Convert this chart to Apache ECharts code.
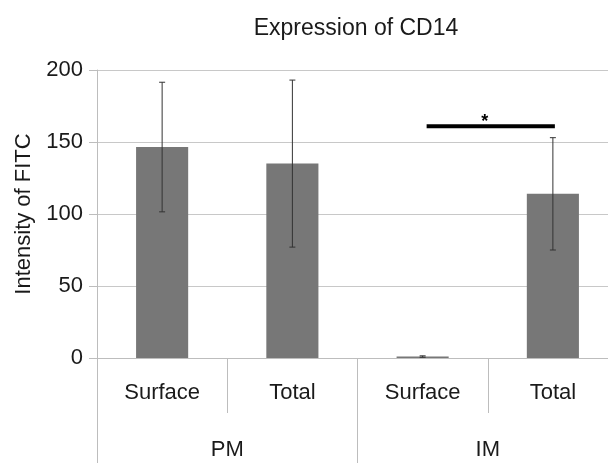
<!DOCTYPE html>
<html>
<head>
<meta charset="utf-8">
<script src="https://cdn.jsdelivr.net/npm/echarts@6/dist/echarts.min.js"></script>
<style>
  html, body { margin: 0; padding: 0; background: #fff; }
  #chart { width: 608px; height: 463px; }
</style>
</head>
<body>
<div id="chart"></div>
<script>
// data
var categories = ['Surface', 'Total', 'Surface', 'Total'];
var groups = ['PM', 'IM'];
var means = [146.5, 135, 1, 114];
var errLow = [101.5, 77, 0.5, 75];
var errHigh = [191.5, 193, 1.5, 153];
var sigFrom = 2, sigTo = 3, sigLevel = 161, sigText = '*';
var yTicks = [0, 200, 50];

(function(){

    var chart = echarts.init(document.getElementById('chart'));
    var font = 'Liberation Sans, Arial, sans-serif';

    var errData = categories.map(function (c, i) { return [i, errLow[i], errHigh[i]]; });

    option = {
        animation: false,
        title: {
            text: 'Expression of CD14',
            left: 351,
            textAlign: 'center',
            top: 12,
            textStyle: { fontFamily: font, fontSize: 23, fontWeight: 'normal', color: '#1a1a1a' }
        },
        // the plot runs past the right edge of the picture (it was cropped)
        grid: { left: 97, width: 521, top: 70, bottom: 105, outerBoundsMode: 'none' },
        xAxis: [
            {
                type: 'category',
                data: categories,
                axisLine: { show: true, lineStyle: { color: '#bdbdbd' } },
                axisTick: { show: true, interval: 0, length: 55, lineStyle: { color: '#bdbdbd' } },
                axisLabel: { interval: 0, margin: 24, fontFamily: font, fontSize: 22, color: '#1a1a1a' }
            },
            {
                type: 'category',
                data: groups,
                position: 'bottom',
                offset: 0,
                axisLine: { show: false },
                axisTick: { show: true, interval: 0, length: 105, lineStyle: { color: '#bdbdbd' } },
                axisLabel: { interval: 0, margin: 81, fontFamily: font, fontSize: 22, color: '#1a1a1a' }
            }
        ],
        yAxis: {
            type: 'value',
            min: yTicks[0],
            max: yTicks[1],
            interval: yTicks[2],
            name: 'Intensity of FITC',
            nameLocation: 'middle',
            nameGap: 60,
            nameTextStyle: { fontFamily: font, fontSize: 22, color: '#1a1a1a' },
            axisLine: { show: true, lineStyle: { color: '#bdbdbd' } },
            axisTick: { show: true, length: 8, lineStyle: { color: '#bdbdbd' } },
            axisLabel: { margin: 14, fontFamily: font, fontSize: 22, color: '#1a1a1a' },
            splitLine: { lineStyle: { color: '#c8c8c8' } }
        },
        series: [
            {
                name: 'mean',
                type: 'bar',
                barWidth: '40%',
                itemStyle: { color: '#777777' },
                data: means
            },
            {
                name: 'error',
                type: 'custom',
                z: 5,
                renderItem: function (params, api) {
                    var x = api.value(0);
                    var lo = api.coord([x, api.value(1)]);
                    var hi = api.coord([x, api.value(2)]);
                    var cap = 3;
                    var st = { stroke: '#333', lineWidth: 1 };
                    return {
                        type: 'group',
                        children: [
                            { type: 'line', shape: { x1: lo[0], y1: lo[1], x2: hi[0], y2: hi[1] }, style: st },
                            { type: 'line', shape: { x1: hi[0] - cap, y1: hi[1], x2: hi[0] + cap, y2: hi[1] }, style: st },
                            { type: 'line', shape: { x1: lo[0] - cap, y1: lo[1], x2: lo[0] + cap, y2: lo[1] }, style: st }
                        ]
                    };
                },
                encode: { x: 0, y: [1, 2] },
                data: errData
            },
            {
                name: 'sig',
                type: 'custom',
                z: 6,
                renderItem: function (params, api) {
                    var a = api.coord([api.value(0), api.value(2)]);
                    var b = api.coord([api.value(1), api.value(2)]);
                    return {
                        type: 'group',
                        children: [
                            { type: 'line', shape: { x1: a[0] + 4, y1: a[1], x2: b[0] + 2, y2: b[1] },
                              style: { stroke: '#000', lineWidth: 4 } },
                            { type: 'text', style: { text: sigText, x: (a[0] + b[0]) / 2 - 3, y: a[1] + 5,
                              align: 'center', verticalAlign: 'bottom', fill: '#000',
                              font: 'bold 18px ' + font } }
                        ]
                    };
                },
                encode: { x: [0, 1], y: 2 },
                data: [[sigFrom, sigTo, sigLevel]]
            }
        ]
    };

    chart.setOption(option);
})();
</script>
</body>
</html>
